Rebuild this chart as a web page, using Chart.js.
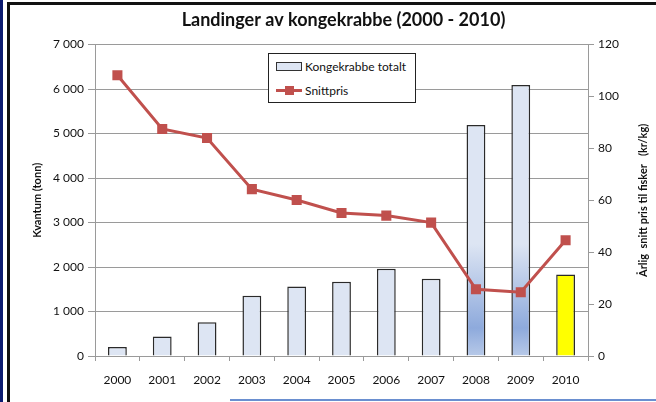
<!DOCTYPE html>
<html>
<head>
<meta charset="utf-8">
<script src="https://cdn.jsdelivr.net/npm/chart.js@4"></script>
<style>
  body { margin: 0; background: #fff; }
  #wrap { position: relative; width: 656px; height: 402px; overflow: hidden; }
  #strip { position: absolute; left: 0; top: 0; width: 3px; height: 402px; background: #0b1a70; }
  #frame { position: absolute; left: 7px; top: 2px; width: 660px; height: 420px;
           border-left: 3px solid #111; border-top: 3px solid #111; }
  #bottomline { position: absolute; left: 230px; top: 399px; width: 426px; height: 2px; background: #6a8fd0; }
  canvas { position: absolute; left: 0; top: 0; }
  #legend { position: absolute; left: 268px; top: 53px; width: 146px; height: 48px;
            border: 1px solid #222; background: #fff; font: 12px Lato, sans-serif; color: #111; }
  .row { position: absolute; left: 7px; height: 16px; display: flex; align-items: center; }
  .boxicon { width: 24px; height: 7px; border: 1px solid #333; background: #dde5f3; margin-right: 3px; }
  .lineicon { position: relative; width: 26px; height: 9px; margin-right: 3px; }
  .lineicon::before { content: ""; position: absolute; left: 0; right: 0; top: 3px; height: 3px; background: #c0504d; }
  .lineicon::after { content: ""; position: absolute; left: 9px; top: 0; width: 9px; height: 9px; background: #c0504d; }
</style>
</head>
<body>
<div id="wrap">
  <canvas id="chart" width="656" height="402"></canvas>
  <div id="strip"></div>
  <div id="frame"></div>
  <div id="bottomline"></div>
  <div id="legend"></div>
</div>
<script>
// data
const years = ["2000", "2001", "2002", "2003", "2004", "2005", "2006", "2007", "2008", "2009", "2010"];
const kvantum = [200, 440, 760, 1355, 1560, 1670, 1960, 1735, 5190, 6090, 1830];
const snittpris = [108.2, 87.5, 84.0, 64.3, 60.1, 55.1, 54.1, 51.4, 25.7, 24.6, 44.6];
const barLabel = "Kongekrabbe totalt";
const lineLabel = "Snittpris";

const tittel = "Landinger av kongekrabbe (2000 - 2010)";
const venstreTittel = "Kvantum (tonn)";
const hoyreTittel = "Årlig  snitt pris til fisker   (kr/kg)";

const FONT = "Lato, 'Open Sans', sans-serif";

// legend (html)
document.getElementById("legend").innerHTML =
  '<div class="row" style="top:4px"><span class="boxicon"></span>' + barLabel + '</div>' +
  '<div class="row" style="top:28px"><span class="lineicon"></span>' + lineLabel + '</div>';

// farge til stolpene
function barColor(context) {
  const i = context.dataIndex;
  if (i === 10) return "#ffff00";
  if (i === 8 || i === 9) {
    const area = context.chart.chartArea;
    if (!area) return "#dde5f3";
    const g = context.chart.ctx.createLinearGradient(0, area.top, 0, area.bottom);
    g.addColorStop(0, "#dde5f3");
    g.addColorStop(0.64, "#dde5f3");
    g.addColorStop(0.91, "#8eaadc");
    g.addColorStop(1, "#b7c9e8");
    return g;
  }
  return "#dde5f3";
}

const tusen = (v) => String(v).replace(/\B(?=(\d{3})+(?!\d))/g, " ");

// hoyre aksetittel, lest nedenfra og opp
const hoyreTittelPlugin = {
  id: "hoyreTittel",
  afterDraw(chart) {
    const c = chart.ctx;
    const s = chart.scales.y1;
    c.save();
    c.translate(643, (s.top + s.bottom) / 2);
    c.rotate(-Math.PI / 2);
    c.font = "bold 11px " + FONT;
    c.fillStyle = "#111";
    c.textAlign = "center";
    c.textBaseline = "middle";
    c.fillText(hoyreTittel, 0, 0);
    c.restore();
  },
};

const ctx = document.getElementById("chart").getContext("2d");

new Chart(ctx, {
  data: {
    labels: years,
    datasets: [
      {
        type: "line",
        label: lineLabel,
        data: snittpris,
        yAxisID: "y1",
        borderColor: "#c0504d",
        backgroundColor: "#c0504d",
        borderWidth: 3,
        pointStyle: "rect",
        pointRadius: 5,
        pointHoverRadius: 5,
        tension: 0,
        order: 0,
      },
      {
        type: "bar",
        label: barLabel,
        data: kvantum,
        yAxisID: "y",
        backgroundColor: barColor,
        borderColor: "#2a2a2a",
        borderWidth: 1.5,
        barPercentage: 0.42,
        categoryPercentage: 1,
        order: 1,
      },
    ],
  },
  plugins: [hoyreTittelPlugin],
  options: {
    responsive: false,
    animation: false,
    layout: { padding: { left: 31, right: 0, top: 0, bottom: 10 } },
    plugins: {
      legend: { display: false },
      tooltip: { enabled: false },
      title: {
        display: true,
        text: tittel,
        color: "#111",
        font: { family: FONT, size: 18, weight: "bold" },
        padding: { top: 9, bottom: 14 },
      },
    },
    scales: {
      x: {
        offset: true,
        grid: { offset: true, drawOnChartArea: false, color: "#9a9a9a", tickLength: 5 },
        border: { color: "#9a9a9a" },
        ticks: { color: "#111", font: { family: FONT, size: 12 }, padding: 12, maxRotation: 0 },
        afterFit: (s) => { s.height = 36; },
      },
      y: {
        position: "left",
        min: 0,
        max: 7000,
        grid: { color: "#9a9a9a", tickLength: 7 },
        border: { color: "#9a9a9a" },
        ticks: { stepSize: 1000, color: "#111", font: { family: FONT, size: 12 }, padding: 4, callback: tusen },
        title: { display: true, text: venstreTittel, color: "#111", font: { family: FONT, size: 11, weight: "bold" }, padding: 0 },
        afterFit: (s) => { s.width = 64; },
      },
      y1: {
        position: "right",
        min: 0,
        max: 120,
        grid: { drawOnChartArea: false, color: "#9a9a9a", tickLength: 6 },
        border: { color: "#9a9a9a" },
        ticks: { stepSize: 20, color: "#111", font: { family: FONT, size: 12 }, padding: 4 },
        afterFit: (s) => { s.width = 68; },
      },
    },
  },
});
</script>
</body>
</html>
